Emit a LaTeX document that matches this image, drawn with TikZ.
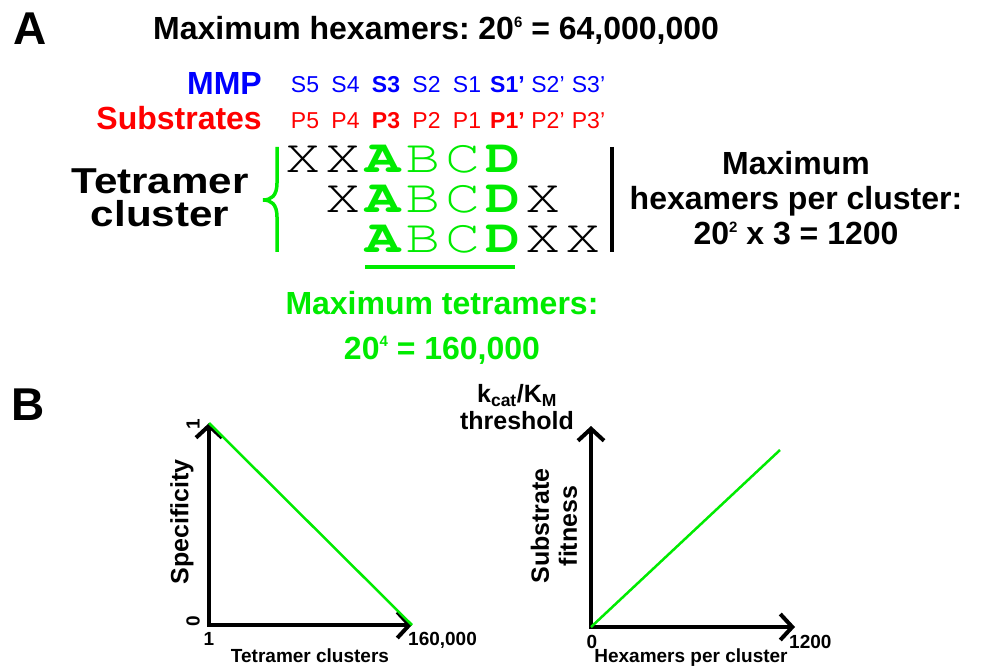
\documentclass[tikz,border=0pt]{standalone}
\usepackage{fontspec}
\setmainfont{Liberation Sans}
\newfontfamily\widefont[FakeStretch=1.17]{Liberation Sans}
\usetikzlibrary{arrows.meta}

\definecolor{mmpblue}{RGB}{0,0,255}
\definecolor{subred}{RGB}{255,0,0}
\definecolor{tetgreen}{RGB}{0,235,0}

\newcommand{\fsz}[2]{\fontsize{#1}{#2}\selectfont}
\newcommand{\seqfont}{\fontencoding{OT1}\fontfamily{pcr}\selectfont}
\newcommand{\pw}[1]{\raisebox{0.4em}{\fontsize{15}{15}\selectfont #1}}
\newcommand{\cell}[1]{\makebox[40pt]{\scalebox{1.25}[1]{#1}}}
\newcommand{\anyres}{\cell{X}}
\newcommand{\fixres}[1]{\cell{\textcolor{tetgreen}{#1}}}
\newcommand{\keyres}[1]{\cell{\textcolor{tetgreen}{\bfseries #1}}}

\begin{document}
\begin{tikzpicture}[
  x=1pt, y=-1pt,
  every node/.style={inner sep=0pt},
  panel/.style={font=\fsz{46}{50}\bfseries, anchor=base west},
  head/.style={font=\fsz{32}{35}\bfseries},
  site/.style={font=\fsz{23}{26}, anchor=base},
  seq/.style={font=\seqfont\fsz{47}{50}, anchor=base west},
  axlbl/.style={font=\fsz{25}{28}\bfseries, align=center},
  tick/.style={font=\fsz{19}{22}\bfseries, anchor=base},
  axis/.style={line width=4pt,
    {Straight Barb[length=12pt, width=26pt]}-{Straight Barb[length=12pt, width=26pt]}},
  trend/.style={tetgreen, line width=2.5pt}
]
\useasboundingbox (0,0) rectangle (985,668);

% panel A
\node[panel] (pa) at (13,45) {A};
\node[head, anchor=base west] (hexmax) at (153,40)
  {Maximum hexamers:\hspace{-0.1em} 20\pw{6} = 64,000,000};
\node[head, anchor=base east, text=mmpblue] (mmp) at (262,95) {MMP};
\node[head, anchor=base east, text=subred] (subs) at (262,130) {Substrates};
\foreach \lab [count=\i from 0] in {S5,S4,\textbf{S3},S2,S1,\textbf{S1’},S2’,S3’}
  \node[site, text=mmpblue] (s\i) at (305+40.5*\i,93) {\lab};
\foreach \lab [count=\i from 0] in {P5,P4,\textbf{P3},P2,P1,\textbf{P1’},P2’,P3’}
  \node[site, text=subred] (p\i) at (305+40.5*\i,129) {\lab};

\node[head, font=\widefont\fsz{36}{33}\bfseries, align=center] (tet) at (160,198)
  {Tetramer\\cluster};
\draw[tetgreen, line width=3.5pt]
  (277,147) -- (277,183) .. controls (277,196) and (271,200) .. (263,200)
  .. controls (271,200) and (277,204) .. (277,217) -- (277,252);
\node[seq] (row1) at (283,173) {\anyres\anyres\keyres{A}\fixres{B}\fixres{C}\keyres{D}};
\node[seq] (row2) at (323,213) {\anyres\keyres{A}\fixres{B}\fixres{C}\keyres{D}\anyres};
\node[seq] (row3) at (363,253) {\keyres{A}\fixres{B}\fixres{C}\keyres{D}\anyres\anyres};
\draw[line width=4pt] (612,147) -- (612,252);
\draw[tetgreen, line width=4pt] (365,267) -- (515,267);

\node[head, align=center] (perclu) at (796,198.5)
  {Maximum\\hexamers per cluster:\\20\pw{2} x 3 = 1200};
\node[head, align=center, text=tetgreen, font=\fsz{32}{45}\bfseries] (tetmax) at (442,328)
  {Maximum tetramers:\\20\pw{4} = 160,000};

% panel B
\node[panel] (pb) at (11,420) {B};

\coordinate (o1) at (209,625);
\coordinate (y1) at (209,423);
\coordinate (x1) at (412,625);
\draw[axis] (y1) |- (x1);
\draw[trend] (y1) -- (x1);
\node[tick, anchor=center, rotate=90] (l1) at (193,424) {1};
\node[tick, anchor=center, rotate=90] (l0) at (193,621) {0};
\node[axlbl, rotate=90] (spec) at (182,522) {Specificity};
\node[tick] (t1) at (209,645) {1};
\node[tick, anchor=base west] (t160) at (408,645) {160,000};
\node[tick] (tetc) at (310,662) {Tetramer clusters};

\coordinate (o2) at (591,627);
\coordinate (y2) at (591,426);
\coordinate (x2) at (795,627);
\coordinate (e2) at (780,450);
\draw[axis] (y2) |- (x2);
\draw[trend] (o2) -- (e2);
\node[axlbl, anchor=south, font=\fsz{25}{27}\bfseries] (kcat) at (517,430)
  {k\textsubscript{cat}/K\textsubscript{M}\\threshold};
\node[axlbl, rotate=90] (fit) at (554,526) {Substrate\\fitness};
\node[tick] (h0) at (592,648) {0};
\node[tick, anchor=base west] (h1200) at (789,648) {1200};
\node[tick] (hexc) at (691,662) {Hexamers per cluster};
\end{tikzpicture}
\end{document}
